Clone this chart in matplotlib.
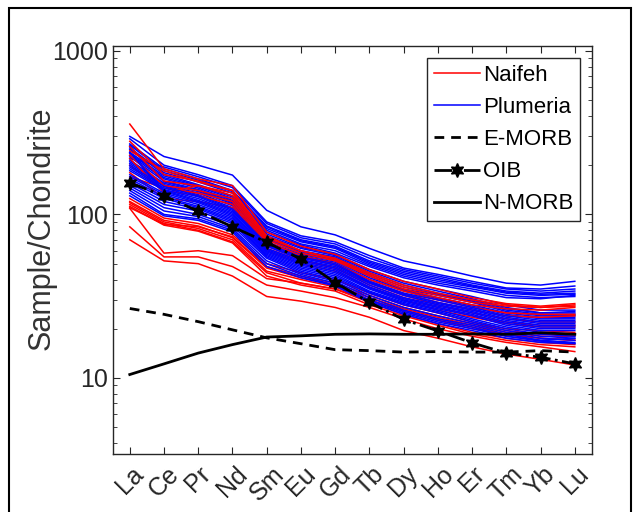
import matplotlib
matplotlib.use("Agg")
import matplotlib.pyplot as plt
from matplotlib.patches import Rectangle
from matplotlib.ticker import LogLocator, NullFormatter

plt.rcParams['font.family'] = ['Liberation Sans', 'DejaVu Sans']

# Elementos terras raras
elements = ['La', 'Ce', 'Pr', 'Nd', 'Sm', 'Eu', 'Gd', 'Tb', 'Dy', 'Ho', 'Er', 'Tm', 'Yb', 'Lu']

# Amostras Naifeh (normalizadas ao condrito)
naifeh = [
    [357, 190, 165, 150, 78, 64, 57, 46, 39, 35, 31, 28.5, 27.5, 28.5],
    [280, 175, 160, 140, 72, 60, 54, 44, 37, 33, 30, 28, 27, 27.5],
    [260, 160, 150, 135, 70, 58, 52, 42, 35, 31, 28, 26.5, 26, 27],
    [245, 185, 158, 140, 74, 60, 53, 43, 36, 32, 29, 27.5, 27, 28],
    [230, 150, 140, 125, 66, 55, 49, 39, 33, 29, 26, 24, 23.5, 24],
    [220, 135, 150, 130, 68, 56, 50, 40, 34, 30, 27, 25, 24.5, 24.5],
    [200, 140, 130, 115, 62, 52, 47, 37, 31, 27, 24, 22, 21, 21],
    [180, 125, 120, 110, 60, 50, 45, 36, 30, 26, 23.5, 21.5, 20.5, 20.5],
    [170, 145, 135, 120, 64, 53, 47, 38, 32, 28, 25, 23, 22, 22],
    [125, 95, 88, 75, 50, 44, 40, 33, 28, 25, 22, 20, 19.5, 19],
    [120, 92, 85, 72, 47, 41, 37, 31, 26.5, 23.5, 21, 19, 18, 18],
    [118, 90, 82, 70, 45, 40, 36, 30, 25.5, 22.5, 20, 18.5, 17.5, 17],
    [115, 88, 80, 68, 44, 38, 35, 29, 24.5, 21.5, 19, 17.5, 16.5, 16],
    [112, 86, 79, 67, 42, 37, 34, 28, 24, 21, 18.5, 17, 16, 15.5],
    [110, 87, 84, 73, 48, 42, 38, 32, 27, 24, 21.5, 19.5, 18.5, 18.5],
    [109, 58, 60, 56, 40.5, 38, 35, 30, 26, 23, 20.5, 18.5, 17.5, 17],
    [84, 55, 55, 48, 37, 34, 31, 27, 23, 20, 18, 16.5, 15.5, 14.5],
    [70, 52, 50, 42, 31.5, 29.5, 27, 23.5, 19.5, 17.5, 15.5, 14, 13, 12],
]

# Amostras Plumeria
plumeria = [
    [300, 226, 200, 174, 106, 84, 75, 62, 52, 47, 42, 38, 37, 39],
    [290, 200, 175, 150, 90, 74, 68, 56, 47, 43, 39, 35.5, 35, 36.5],
    [220, 195, 170, 146, 88, 72, 66, 54, 46, 42, 38, 35, 34, 35],
    [270, 190, 165, 140, 85, 70, 64, 52, 45, 41, 37, 34, 33, 34],
    [265, 185, 162, 138, 84, 69, 63, 51, 44, 40, 36.5, 33.5, 32.5, 33],
    [255, 180, 158, 135, 82, 68, 62, 50, 43, 39, 36, 33, 32, 32.5],
    [250, 176, 152, 130, 80, 66, 60, 49, 42, 38, 35, 32, 31, 31.5],
    [240, 172, 150, 128, 78, 65, 58, 48, 41, 37, 34, 31, 30.5, 32],
    [236, 168, 148, 125, 76, 63, 57, 46, 39, 35, 31.5, 28, 26, 26],
    [230, 165, 145, 122, 74, 62, 56, 45, 38, 34, 30.5, 27, 25, 25],
    [225, 160, 142, 120, 72, 60, 55, 44, 37, 33, 30, 26.5, 25, 25.5],
    [260, 158, 140, 118, 71, 59, 54, 43, 36, 32.5, 29.5, 26, 24.5, 24.5],
    [215, 155, 138, 116, 70, 58, 53, 42, 35, 32, 29, 25.5, 24, 24],
    [210, 152, 135, 113, 68, 57, 52, 41, 34.5, 31, 28, 25, 23.5, 23.5],
    [205, 150, 132, 110, 67, 56, 51, 40, 34, 30.5, 27.5, 24.5, 23, 23],
    [200, 148, 130, 108, 66, 55, 50, 39, 33, 30, 27, 24, 22.5, 22.5],
    [195, 145, 128, 106, 65, 54, 49, 38.5, 32.5, 29, 26.5, 23.5, 22, 22],
    [190, 142, 125, 104, 64, 53, 48, 38, 32, 28.5, 26, 23, 21.5, 21.5],
    [185, 140, 122, 102, 62, 52, 47, 37, 31, 28, 25.5, 22.5, 21, 21],
    [240, 138, 120, 100, 61, 51, 46, 36, 30.5, 27.5, 25, 22, 20.5, 20.5],
    [175, 135, 118, 98, 60, 50, 45, 35.5, 30, 27, 24.5, 21.5, 20, 20],
    [170, 132, 115, 96, 59, 49, 44, 35, 29.5, 26.5, 24, 21, 19.5, 19.5],
    [165, 128, 112, 94, 58, 48, 43, 34, 29, 26, 23, 20.5, 19, 18.5],
    [160, 125, 110, 92, 57, 47, 42, 33.5, 28.5, 25.5, 22.5, 20, 18.5, 18],
    [155, 120, 108, 90, 56, 46, 41, 33, 28, 25, 22, 19.5, 18, 17.5],
    [150, 115, 105, 88, 55, 45, 40, 32, 27, 24, 21.5, 19, 17.5, 17],
    [145, 110, 100, 85, 54, 44, 39, 31, 26, 23, 21, 18.5, 17, 16.5],
    [140, 105, 97, 82, 52, 43, 38, 30, 25.5, 22.5, 20.5, 18, 16.8, 16.3],
    [135, 100, 94, 80, 50, 42, 37, 29.5, 25, 22, 20, 18, 17, 17.5],
    [130, 98, 92, 78, 48, 41, 36.5, 29, 24.5, 21.5, 19.5, 17.5, 16.5, 16.2],
]

# Referências (Sun & McDonough)
e_morb = [26.6, 24.5, 22.1, 19.7, 17.6, 16.2, 14.9, 14.7, 14.4, 14.5, 14.4, 14.4, 14.7, 14.4]
oib = [156, 130, 104.5, 84, 67.6, 53.3, 38.3, 29, 22.8, 19.4, 16.4, 14.2, 13.4, 12.2]
n_morb = [10.5, 12.2, 14.2, 16.0, 17.8, 18.1, 18.5, 18.6, 18.5, 18.5, 18.6, 18.5, 18.9, 18.5]

x = list(range(1, len(elements) + 1))

fig = plt.figure(figsize=(6.42, 5.12), dpi=100)
ax = fig.add_axes([0.1755, 0.1133, 0.7465, 0.7967])

# Moldura externa
fig.patches.append(Rectangle((9 / 642, -0.1), 622 / 642, 1.1 - 8 / 512,
                             transform=fig.transFigure, fill=False,
                             edgecolor='black', linewidth=1.5))

# Metade das Plumeria, depois Naifeh, depois o resto das Plumeria
half = 15
for i, s in enumerate(plumeria[:half]):
    ax.plot(x, s, color='#0000ff', linewidth=1.1,
            label='Plumeria' if i == 0 else None)
for i, s in enumerate(naifeh):
    ax.plot(x, s, color='#ff0000', linewidth=1.1,
            label='Naifeh' if i == 0 else None)
for s in plumeria[half:]:
    ax.plot(x, s, color='#0000ff', linewidth=1.1)

ax.plot(x, e_morb, color='black', linestyle=(0, (3.5, 2.5)), linewidth=2, label='E-MORB')
ax.plot(x, oib, color='black', linestyle='-.', linewidth=2, marker=(6, 1, 0),
        markersize=10, label='OIB')
ax.plot(x, n_morb, color='black', linestyle='-', linewidth=2, label='N-MORB')

ax.set_yscale('log')
ax.set_ylim(3.43, 1070)
ax.set_xlim(0.5, 14.5)
ax.set_xticks(x)
ax.set_xticklabels(elements, rotation=45)
ax.set_yticks([10, 100, 1000])
ax.set_yticklabels(['10', '100', '1000'])
ax.yaxis.set_minor_locator(LogLocator(base=10, subs=range(2, 10)))
ax.yaxis.set_minor_formatter(NullFormatter())
ax.set_ylabel('Sample/Chondrite', fontsize=22, color='#333333')
ax.yaxis.set_label_coords(-0.118, 0.554)

ax.tick_params(axis='both', which='both', direction='in', top=True, right=True,
               colors='#262626', labelsize=18)
ax.tick_params(axis='both', which='major', length=5)
ax.tick_params(axis='both', which='minor', length=3)
ax.tick_params(axis='x', pad=6)
for sp in ax.spines.values():
    sp.set_color('#262626')
    sp.set_linewidth(1)

# Ordem da legenda igual à original
h, l = ax.get_legend_handles_labels()
order = [l.index(n) for n in ['Naifeh', 'Plumeria', 'E-MORB', 'OIB', 'N-MORB']]
leg = ax.legend([h[k] for k in order], [l[k] for k in order],
                loc='upper right', fontsize=16, labelspacing=0.5,
                handlelength=2.1, handletextpad=0.1, borderpad=0.3,
                borderaxespad=0.55, fancybox=False, framealpha=1)
leg.get_frame().set_edgecolor('#262626')
leg.get_frame().set_linewidth(1)

fig.savefig('out.png', dpi=100)
